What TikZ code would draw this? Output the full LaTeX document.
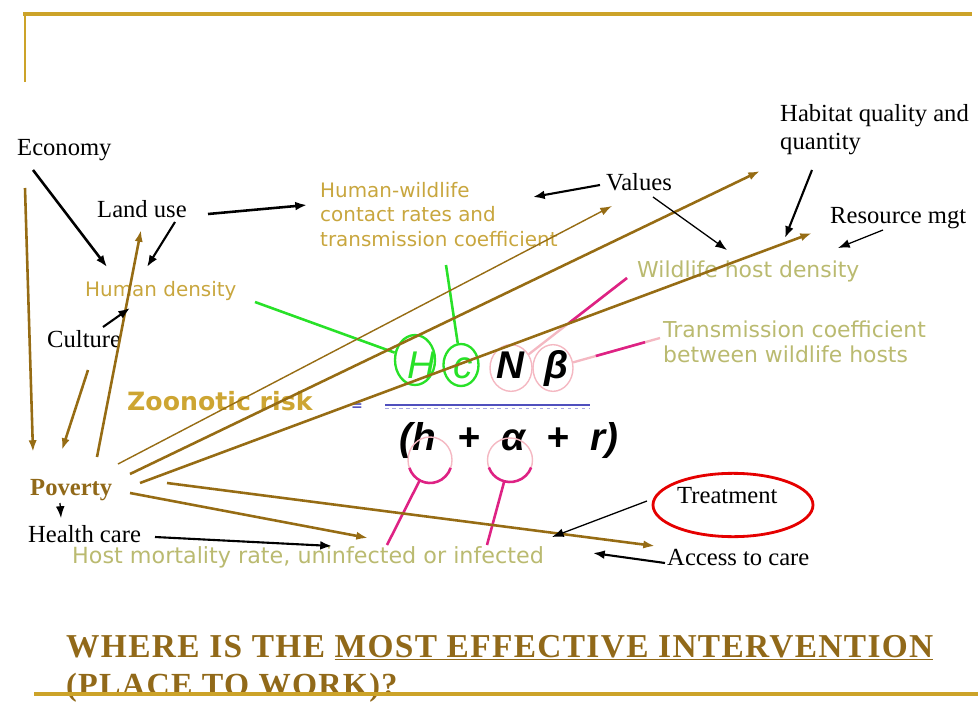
\documentclass[tikz,border=0pt]{standalone}
\usepackage{fontspec}
\setmainfont{Liberation Serif}
\newfontfamily\slidesans{DejaVu Sans}
\newfontfamily\formulafont{Liberation Sans}
\newfontfamily\titlefont[LetterSpace=4]{Liberation Serif}
\usetikzlibrary{arrows.meta,shapes.geometric,calc}
\definecolor{frame}{RGB}{204,163,41}
\definecolor{fan}{RGB}{150,108,20}
\definecolor{poor}{RGB}{145,105,25}
\definecolor{tan}{RGB}{200,166,62}
\definecolor{zoon}{RGB}{205,165,50}
\definecolor{olive}{RGB}{186,186,112}
\definecolor{ringgreen}{RGB}{40,225,40}
\definecolor{ringpink}{RGB}{244,184,194}
\definecolor{mag}{RGB}{222,34,132}
\definecolor{fracblue}{RGB}{80,80,190}
\tikzset{
  lbl/.style={anchor=base west, inner sep=0pt, font=\fontsize{21}{24}\selectfont},
  factor/.style={anchor=base west, inner sep=0pt, text=tan, align=left,
    font=\slidesans\fontsize{17}{20.5}\selectfont},
  wildlbl/.style={anchor=base west, inner sep=0pt, text=olive, align=left,
    font=\slidesans\fontsize{18.7}{20.5}\selectfont},
  sym/.style={anchor=base, inner sep=0pt,
    font=\formulafont\bfseries\itshape\fontsize{33}{33}\selectfont},
  ring/.style={ellipse, draw=#1, inner sep=0pt},
  fanline/.style={draw=fan, line width=2.2pt, -{Latex[length=10pt,width=7pt]}},
  blk/.style={draw=black, line width=1.8pt, -{Latex[length=10pt,width=7.5pt]}},
  greenline/.style={draw=ringgreen, line width=2.2pt},
  magline/.style={draw=mag, line width=2.2pt},
  question/.style={anchor=base west, inner sep=0pt, text=poor,
    font=\titlefont\bfseries\fontsize{28.5}{34}\selectfont}
}
\begin{document}
\begin{tikzpicture}[x=0.03cm, y=-0.03cm]
\useasboundingbox (0,0) rectangle (978,704);

% slide frame
\draw[draw=frame, line width=3.4pt] (23,14) -- (972,14);
\draw[draw=frame, line width=1.8pt] (25,14) -- (25,82);

% black labels
\node[lbl] (economy) at (17,156) {Economy};
\node[lbl] (landuse) at (97,217) {Land use};
\node[lbl] (culture) at (47,347) {Culture};
\node[lbl] (values) at (606,190) {Values};
\node[lbl, align=left, font=\fontsize{21}{24}\selectfont] (habitat) at (780,150) {Habitat quality and\\quantity};
\node[lbl] (resource) at (830,223) {Resource mgt};
\node[lbl] (treatment) at (677,503) {Treatment};
\node[lbl] (access) at (667,565) {Access to care};
\node[lbl] (health) at (28,542) {Health care};
\node[lbl, text=poor, font=\bfseries\fontsize{21}{24}\selectfont] (poverty) at (30,495) {Poverty};

% coloured labels
\node[factor] (hwc) at (320,246) {Human-wildlife\\contact rates and\\transmission coefficient};
\node[factor] (humdens) at (85,296) {Human density};
\node[wildlbl] (wildhost) at (637,277) {Wildlife host density};
\node[wildlbl] (transwild) at (663,362) {Transmission coefficient\\between wildlife hosts};
\node[wildlbl, font=\slidesans\fontsize{19}{20.5}\selectfont] (hostmort) at (72,563) {Host mortality rate, uninfected or infected};
\node[anchor=base west, inner sep=0pt, text=zoon, font=\slidesans\bfseries\fontsize{21.5}{24}\selectfont] (zrisk) at (127,410) {Zoonotic risk};
\node[inner sep=0pt, text=fracblue, font=\slidesans\bfseries\fontsize{12}{12}\selectfont] (equals) at (357,407) {=};

% formula
\node[sym, text=ringgreen, font=\formulafont\itshape\fontsize{33}{33}\selectfont] (Hsym) at (421,378) {H};
\node[sym, text=ringgreen, font=\formulafont\itshape\fontsize{33}{33}\selectfont] (csym) at (463,378) {c};
\node[sym] (Nsym) at (510,378) {N};
\node[sym] (bsym) at (556,378) {β};
\draw[draw=fracblue, line width=1pt] (385,405) -- (590,405);
\draw[draw=fracblue!50, line width=0.8pt, dashed] (385,408) -- (590,408);
\node[sym] (denom) at (509,450) {(h\ \ +\ \ α\ \ +\ \ r)};

% circles round the terms
\node[ring=ringgreen, line width=2pt, minimum width=1.2cm, minimum height=1.5cm] (Hring) at (415,360) {};
\node[ring=ringgreen, line width=2pt, minimum width=1.05cm, minimum height=1.26cm] (cring) at (461,365) {};
\node[ring=ringpink, line width=1.2pt, minimum width=1.26cm, minimum height=1.4cm] (Nring) at (511,368) {};
\node[ring=ringpink, line width=1.2pt, minimum width=1.2cm, minimum height=1.4cm] (bring) at (553,368) {};
\node[ring=ringpink, line width=1.2pt, minimum width=1.32cm, minimum height=1.38cm] (hring) at (430,460) {};
\node[ring=ringpink, line width=1.2pt, minimum width=1.35cm, minimum height=1.32cm] (aring) at (510,460) {};
\draw[magline] ([shift={(160:22 and 23)}]hring.center) arc[start angle=160, end angle=20, x radius=22, y radius=23];
\draw[magline] ([shift={(160:22.5 and 22)}]aring.center) arc[start angle=160, end angle=20, x radius=22.5, y radius=22];
\node[red!90!black, draw, ellipse, line width=2.4pt, minimum width=4.8cm, minimum height=1.9cm] (treatring) at (733,505) {};

% free ends
\coordinate (hd-out) at (255,302);
\coordinate (hwc-out) at (446,265);
\coordinate (wh-in) at (627,278);
\coordinate (tw-in) at (660,338);
\coordinate (hm-in) at (387,545);
\coordinate (am-in) at (487,545);

% green and magenta leaders
\draw[greenline] (hd-out) -- (Hring);
\draw[greenline] (hwc-out) -- (cring);
\draw[draw=ringpink, line width=2pt] (Nring) -- (wh-in);
\draw[magline] ($(Nring)!0.5!(wh-in)$) -- (wh-in);
\draw[draw=ringpink, line width=2pt] (bring) -- (tw-in);
\draw[magline] ($(bring)!0.4!(tw-in)$) -- ($(bring)!0.86!(tw-in)$);
\draw[magline] (hring) -- (hm-in);
\draw[magline] (aring) -- (am-in);

% poverty links
\draw[fanline, line width=1.2pt] (118,464) coordinate (f1) -- (612,206) coordinate (f1e);
\draw[fanline] (130,474) coordinate (f2) -- (760,171) coordinate (f2e);
\draw[fanline] (140,483) coordinate (f3) -- (812,233) coordinate (f3e);
\draw[fanline] (167,483) coordinate (f4) -- (655,546) coordinate (f4e);
\draw[fanline] (130,493) coordinate (f5) -- (368,538) coordinate (f5e);
\draw[fanline] (25,188) coordinate (f6) -- (33,452) coordinate (f6e);
\draw[fanline] (88,370) coordinate (f7) -- (62,450) coordinate (f7e);
\draw[fanline] (97,457) coordinate (f8) -- (141,230) coordinate (f8e);

% black arrows
\coordinate (econ-out) at (33,170);   \coordinate (econ-tip) at (107,267);
\coordinate (land-out) at (175,222);  \coordinate (land-tip) at (147,267);
\coordinate (cult-out) at (103,327);  \coordinate (cult-tip) at (130,308);
\coordinate (land-out2) at (208,214); \coordinate (hwc-tip) at (307,205);
\coordinate (val-out) at (600,185);   \coordinate (val-tip) at (533,197);
\coordinate (val-out2) at (653,197);  \coordinate (wild-tip) at (727,250);
\coordinate (hab-out) at (812,170);   \coordinate (hab-tip) at (785,238);
\coordinate (res-out) at (883,230);   \coordinate (res-tip) at (838,248);
\coordinate (treat-out) at (647,501); \coordinate (treat-tip) at (552,537);
\coordinate (acc-out) at (665,563);   \coordinate (acc-tip) at (593,553);
\coordinate (health-out) at (155,537);\coordinate (health-tip) at (332,546);
\coordinate (pov-out) at (60,503);    \coordinate (pov-tip) at (61,518);
\draw[blk, line width=2.2pt] (econ-out) -- (econ-tip);
\draw[blk] (land-out) -- (land-tip);
\draw[blk] (cult-out) -- (cult-tip);
\draw[blk, line width=2.2pt] (land-out2) -- (hwc-tip);
\draw[blk] (val-out) -- (val-tip);
\draw[blk, line width=1.1pt] (val-out2) -- (wild-tip);
\draw[blk] (hab-out) -- (hab-tip);
\draw[blk, line width=1.1pt] (res-out) -- (res-tip);
\draw[blk, line width=1.1pt] (treat-out) -- (treat-tip);
\draw[blk] (acc-out) -- (acc-tip);
\draw[blk] (health-out) -- (health-tip);
\draw[blk, line width=1.1pt] (pov-out) -- (pov-tip);

% question
\node[question] (q1) at (66,657) {WHERE IS THE \underline{MOST EFFECTIVE INTERVENTION}};
\node[question, font=\titlefont\bfseries\fontsize{27.5}{34}\selectfont] (q2) at (66,695) {(PLACE TO WORK)?};
\draw[draw=frame, line width=3.4pt] (34,694) -- (978,694);
\end{tikzpicture}
\end{document}
